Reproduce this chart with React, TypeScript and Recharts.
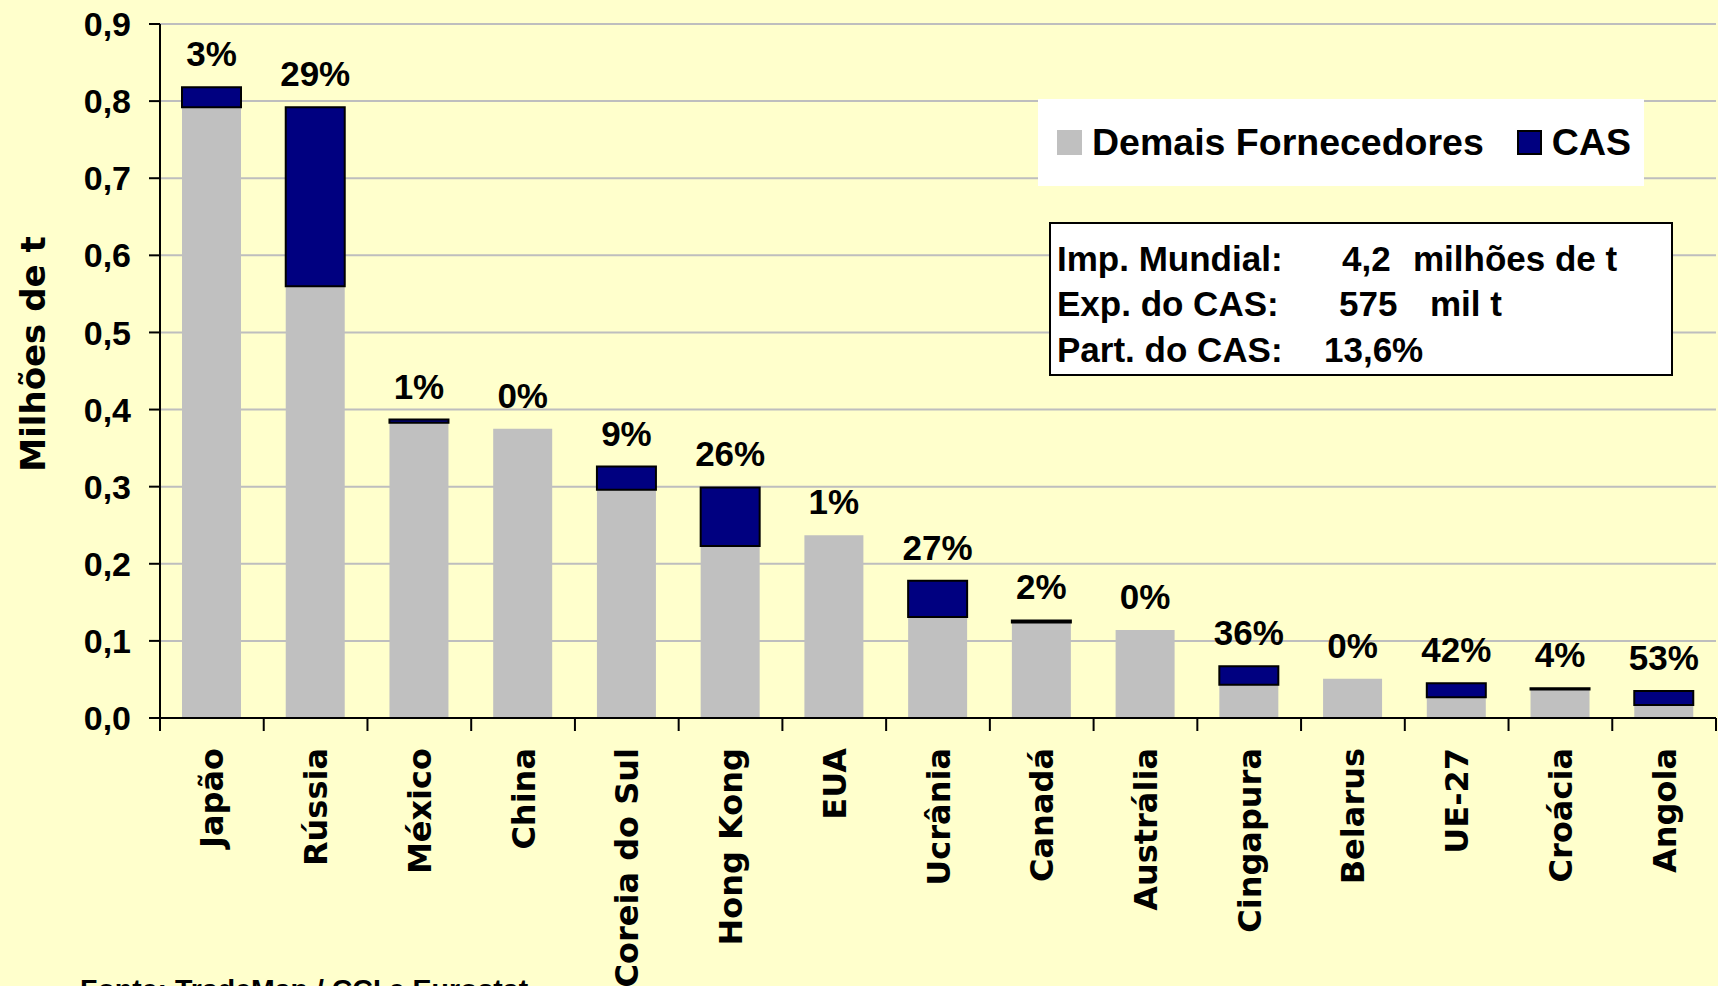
import { Bar, BarChart, CartesianGrid, LabelList, Legend, XAxis, YAxis } from "recharts";

const countries = [
  "Japão", "Rússia", "México", "China", "Coreia do Sul", "Hong Kong", "EUA", "Ucrânia",
  "Canadá", "Austrália", "Cingapura", "Belarus", "UE-27", "Croácia", "Angola",
];
// milhões de t
const otherSuppliers = [0.792, 0.56, 0.383, 0.375, 0.296, 0.223, 0.237, 0.131, 0.124, 0.114, 0.043, 0.051, 0.027, 0.037, 0.017];
const casExports = [0.026, 0.232, 0.004, 0, 0.03, 0.076, 0, 0.047, 0.0025, 0, 0.024, 0, 0.018, 0.0015, 0.018];
const casShare = ["3%", "29%", "1%", "0%", "9%", "26%", "1%", "27%", "2%", "0%", "36%", "0%", "42%", "4%", "53%"];
const yTicks = [0, 0.1, 0.2, 0.3, 0.4, 0.5, 0.6, 0.7, 0.8, 0.9];

const rows = countries.map((country, i) => ({
  country,
  demais: otherSuppliers[i],
  cas: casExports[i],
  share: casShare[i],
}));

const W = 1718;
const H = 986;
const PLOT_LEFT = 160;
const PLOT_RIGHT = 1716;
const PLOT_TOP = 24;
const PLOT_BOTTOM = 718;
const BAND = (PLOT_RIGHT - PLOT_LEFT) / countries.length;

const ARIAL = '"Liberation Sans", Arial, sans-serif';
const VERDANA = '"DejaVu Sans", Verdana, sans-serif';

function CategoryTick(props: any) {
  const { x, y, payload } = props;
  const last = payload.index === countries.length - 1;
  const ty = y + 30;
  return (
    <g>
      <line x1={x - BAND / 2} x2={x - BAND / 2} y1={y} y2={y + 13} stroke="#000" strokeWidth={2} />
      {last && <line x1={x + BAND / 2} x2={x + BAND / 2} y1={y} y2={y + 13} stroke="#000" strokeWidth={2} />}
      <text
        x={x}
        y={ty}
        dy="0.36em"
        transform={`rotate(-90, ${x}, ${ty})`}
        textAnchor="end"
        fontFamily={VERDANA}
        fontWeight="bold"
        fontSize={32}
        fill="#000"
      >
        {payload.value}
      </text>
    </g>
  );
}

// share label sits above the whole stack, so it is hung on the bottom series
// and lifted by the CAS segment (same px-per-unit as the gray bar)
function ShareLabel(props: any) {
  const { x, y, width, height, index } = props;
  const ppu = Number(height) / otherSuppliers[index];
  const top = Number(y) - casExports[index] * ppu;
  return (
    <text
      x={Number(x) + Number(width) / 2}
      y={top - 21}
      textAnchor="middle"
      fontFamily={ARIAL}
      fontWeight="bold"
      fontSize={35}
      fill="#000"
    >
      {casShare[index]}
    </text>
  );
}

function AxisTitle() {
  return (
    <text
      x={33}
      y={354}
      dy="0.36em"
      transform="rotate(-90, 33, 354)"
      textAnchor="middle"
      fontFamily={VERDANA}
      fontWeight="bold"
      fontSize={34}
      fill="#000"
    >
      Milhões de t
    </text>
  );
}

function LegendBox() {
  const item = (color: string, border: boolean, text: string) => (
    <span style={{ display: "inline-flex", alignItems: "center" }}>
      <span
        style={{
          display: "inline-block",
          width: 25,
          height: 25,
          background: color,
          boxSizing: "border-box",
          border: border ? "2px solid #000" : "none",
          marginRight: 10,
        }}
      />
      <span>{text}</span>
    </span>
  );
  return (
    <div
      style={{
        width: 606,
        height: 87,
        background: "#fff",
        display: "flex",
        alignItems: "center",
        boxSizing: "border-box",
        paddingLeft: 19,
        fontFamily: ARIAL,
        fontWeight: "bold",
        fontSize: 37.5,
        color: "#000",
        whiteSpace: "nowrap",
      }}
    >
      {item("#C0C0C0", false, "Demais Fornecedores")}
      <span style={{ width: 33 }} />
      {item("#000080", true, "CAS")}
    </div>
  );
}

export default function App() {
  const txt = { position: "absolute" as const, whiteSpace: "pre" as const, lineHeight: "35px" };
  return (
    <div
      style={{
        position: "absolute",
        left: 0,
        top: 0,
        width: W,
        height: H,
        overflow: "hidden",
        background: "#FFFFCC",
      }}
    >
      <BarChart
        width={W}
        height={H}
        data={rows}
        margin={{ top: PLOT_TOP, right: W - PLOT_RIGHT, bottom: 0, left: 0 }}
        barSize={59}
      >
        <CartesianGrid vertical={false} stroke="#BEBEBE" strokeWidth={2} />
        <XAxis
          dataKey="country"
          height={H - PLOT_BOTTOM}
          interval={0}
          tickLine={false}
          tickSize={0}
          tickMargin={0}
          axisLine={{ stroke: "#000", strokeWidth: 2 }}
          tick={<CategoryTick />}
        />
        <YAxis
          width={PLOT_LEFT}
          domain={[0, 0.9]}
          ticks={yTicks}
          interval={0}
          tickSize={11}
          tickMargin={18}
          tickLine={{ stroke: "#000", strokeWidth: 2 }}
          axisLine={{ stroke: "#000", strokeWidth: 2 }}
          tickFormatter={(v: number) => v.toFixed(1).replace(".", ",")}
          tick={{ fontFamily: ARIAL, fontWeight: "bold", fontSize: 34, fill: "#000" }}
          label={{ content: () => <AxisTitle /> }}
        />
        <Legend
          layout="horizontal"
          verticalAlign="middle"
          align="center"
          wrapperStyle={{ left: 1038, top: 99, width: 606, height: 87 }}
          content={() => <LegendBox />}
        />
        <Bar dataKey="demais" name="Demais Fornecedores" stackId="a" fill="#C0C0C0" isAnimationActive={false}>
          <LabelList dataKey="share" content={<ShareLabel />} />
        </Bar>
        <Bar dataKey="cas" name="CAS" stackId="a" fill="#000080" stroke="#000" strokeWidth={2} isAnimationActive={false} />
      </BarChart>

      <div
        style={{
          position: "absolute",
          left: 1049,
          top: 222,
          width: 624,
          height: 154,
          background: "#fff",
          border: "2px solid #000",
          boxSizing: "border-box",
          fontFamily: ARIAL,
          fontWeight: "bold",
          fontSize: 35,
          color: "#000",
        }}
      >
        <span style={{ ...txt, left: 6, top: 17 }}>Imp. Mundial:</span>
        <span style={{ ...txt, left: 291, top: 17 }}>4,2</span>
        <span style={{ ...txt, left: 362, top: 17 }}>milhões de t</span>
        <span style={{ ...txt, left: 6, top: 62 }}>Exp. do CAS:</span>
        <span style={{ ...txt, left: 288, top: 62 }}>575</span>
        <span style={{ ...txt, left: 379, top: 62 }}>mil t</span>
        <span style={{ ...txt, left: 6, top: 108 }}>Part. do CAS:</span>
        <span style={{ ...txt, left: 273, top: 108 }}>13,6%</span>
      </div>

      <div
        style={{
          position: "absolute",
          left: 80,
          top: 973,
          fontFamily: ARIAL,
          fontWeight: "bold",
          fontSize: 28.5,
          color: "#000",
          whiteSpace: "pre",
          lineHeight: "32px",
        }}
      >
        Fonte: TradeMap / CCI e Eurostat
      </div>
    </div>
  );
}
